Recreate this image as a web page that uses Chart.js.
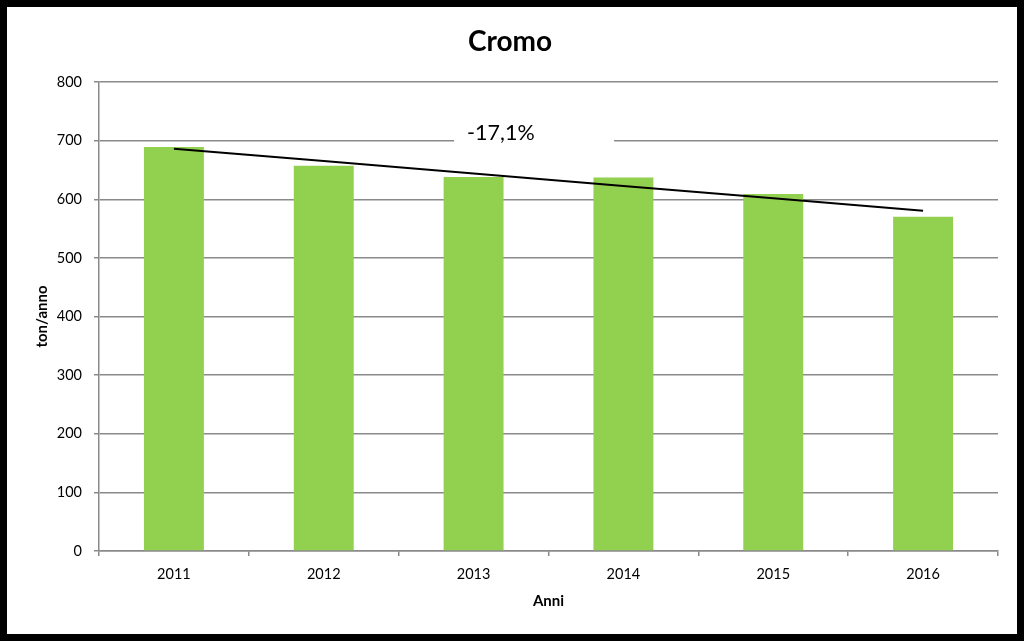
<!DOCTYPE html>
<html>
<head>
<meta charset="utf-8">
<title>Cromo</title>
<script src="https://cdn.jsdelivr.net/npm/chart.js@4"></script>
<style>
    html, body { margin: 0; padding: 0; background: #fff; }
    #frame {
        width: 1024px;
        height: 641px;
        box-sizing: border-box;
        border: 7px solid #000;
        background: #fff;
    }
    #chart { display: block; }
</style>
</head>
<body>
<div id="frame">
    <canvas id="chart" width="1010" height="627"></canvas>
</div>
<script>
// Chart data
const chartTitle = 'Cromo';
const years = ['2011', '2012', '2013', '2014', '2015', '2016'];
const cromo = [689, 657, 638, 637, 609, 570];
const trendLabel = '-17,1%';
const yTicks = [0, 100, 200, 300, 400, 500, 600, 700, 800];

const FONT = 'Lato, "Liberation Sans", sans-serif';
const GRID = '#8a8a8a';

/**
 * Linear trend (least squares) over the series
 */
function linearTrend(values) {
    const n = values.length;
    const meanX = (n - 1) / 2;
    const meanY = values.reduce((a, b) => a + b, 0) / n;
    let num = 0, den = 0;
    values.forEach((v, i) => {
        num += (i - meanX) * (v - meanY);
        den += (i - meanX) * (i - meanX);
    });
    const slope = num / den;
    return values.map((v, i) => meanY + slope * (i - meanX));
}

// Title centred on the whole canvas, plus trend label with white box
const labelsPlugin = {
    id: 'labels',
    afterDatasetsDraw(chart) {
        const { ctx, chartArea, scales, width } = chart;
        ctx.save();

        ctx.fillStyle = '#000';
        ctx.font = 'bold 28px ' + FONT;
        ctx.textAlign = 'center';
        ctx.textBaseline = 'middle';
        ctx.fillText(chartTitle, width / 2 - 2, 35);

        const w = chartArea.right - chartArea.left;
        const boxLeft = chartArea.left + w * 0.395;
        const boxRight = chartArea.left + w * 0.573;
        const yMid = scales.y.getPixelForValue(713);
        ctx.fillStyle = '#fff';
        ctx.fillRect(boxLeft, yMid - 18, boxRight - boxLeft, 34);
        ctx.fillStyle = '#000';
        ctx.font = '21.5px ' + FONT;
        ctx.textAlign = 'left';
        ctx.fillText(trendLabel, boxLeft + 13, yMid);
        ctx.restore();
    }
};

const ctx = document.getElementById('chart').getContext('2d');

new Chart(ctx, {
    type: 'bar',
    data: {
        labels: years,
        datasets: [{
            type: 'line',
            label: 'Tendenza',
            data: linearTrend(cromo),
            borderColor: '#000',
            borderWidth: 2,
            pointRadius: 0,
            fill: false,
            order: 0
        }, {
            label: 'Cromo',
            data: cromo,
            backgroundColor: '#92d050',
            borderWidth: 0,
            categoryPercentage: 1,
            barPercentage: 0.4,
            order: 1
        }]
    },
    options: {
        responsive: false,
        animation: false,
        layout: { padding: { left: 0, right: 19, top: 75, bottom: 0 } },
        plugins: {
            legend: { display: false },
            tooltip: { enabled: false },
            title: { display: false }
        },
        scales: {
            x: {
                offset: true,
                grid: {
                    offset: true,
                    drawOnChartArea: false,
                    drawTicks: true,
                    tickLength: 5,
                    color: GRID,
                    lineWidth: 1.5
                },
                border: { display: true, color: GRID, width: 1.5 },
                ticks: {
                    color: '#000',
                    font: { family: FONT, size: 14.5 },
                    padding: 10,
                    maxRotation: 0
                },
                title: {
                    display: true,
                    text: 'Anni',
                    color: '#000',
                    font: { family: FONT, size: 15, weight: 'bold' },
                    padding: { top: 0, bottom: 24 }
                },
                afterFit(scale) { scale.height = 83; }
            },
            y: {
                min: 0,
                max: 800,
                afterBuildTicks(scale) {
                    scale.ticks = yTicks.map(v => ({ value: v }));
                },
                grid: {
                    color: GRID,
                    lineWidth: 1.5,
                    drawTicks: true,
                    tickLength: 5
                },
                border: { display: true, color: GRID, width: 1.5 },
                ticks: {
                    color: '#000',
                    font: { family: FONT, size: 14.5 },
                    padding: 12
                },
                title: {
                    display: true,
                    text: 'ton/anno',
                    color: '#000',
                    font: { family: FONT, size: 15, weight: 'bold' },
                    padding: { top: 26, bottom: 0 }
                },
                afterFit(scale) { scale.width = 92; }
            }
        }
    },
    plugins: [labelsPlugin]
});
</script>
</body>
</html>
